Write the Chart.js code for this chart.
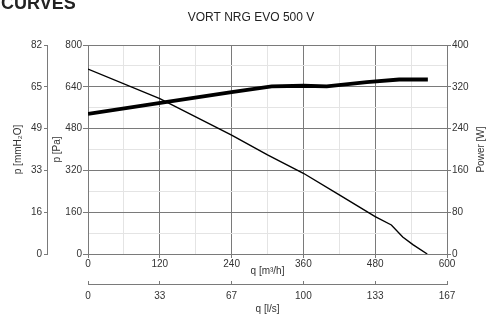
<!DOCTYPE html>
<html>
<head>
<meta charset="utf-8">
<script src="https://cdn.jsdelivr.net/npm/chart.js@4.4.1/dist/chart.umd.min.js"></script>
<style>
  html, body { margin: 0; padding: 0; background: #fff; overflow: hidden; }
  #wrap { position: relative; width: 488px; height: 315px; }
  #heading { position: absolute; left: 1px; top: -6px; font: bold 18px/18px "Liberation Sans", Arial, sans-serif; color: #222; white-space: nowrap; }
  canvas { position: absolute; left: 0; top: 0; }
</style>
</head>
<body>
<div id="wrap">
  <canvas id="c" width="488" height="315"></canvas>
  <div id="heading">CURVES</div>
</div>
<script>
// ---- data ----
const chartTitle = "VORT NRG EVO 500 V";
const pressureFlow = [0, 120, 240, 300, 360, 420, 480, 507, 526, 543, 567];   // q [m³/h]
const pressureVals = [708, 595, 455, 379, 309, 226, 143, 111, 65, 36, 0];      // p [Pa]
const powerFlow = [0, 132, 240, 307, 360, 399, 466, 520, 568];                  // q [m³/h]
const powerVals = [268, 291, 310, 321, 322, 321, 329, 334, 334];                // Power [W]
const flowTicks = [0, 120, 240, 360, 480, 600];           // q [m³/h]
const pressureTicks = [0, 160, 320, 480, 640, 800];       // p [Pa]
const powerTicks = [0, 80, 160, 240, 320, 400];           // Power [W]
const mmTickLabels = [0, 16, 33, 49, 65, 82];             // p [mmH2O]
const lsTickLabels = [0, 33, 67, 100, 133, 167];          // q [l/s]

const FONT = "'Liberation Sans', Arial, sans-serif";
const TXT = '#333';
const MAJOR = '#7a7a7a';
const MINOR = '#e4e4e4';
const PA_PER_MM = 9.80665;

function pts(xs, ys) { return xs.map((x, i) => ({ x: x, y: ys[i] })); }

const extraText = {
  id: 'extraText',
  afterDraw(chart) {
    const ctx = chart.ctx;
    ctx.save();
    ctx.fillStyle = '#222';
    ctx.font = '12px ' + FONT;
    ctx.textAlign = 'center';
    ctx.textBaseline = 'middle';
    ctx.fillText(chartTitle, 251, 18);
    const r = chart.scales.y1;
    ctx.fillStyle = TXT;
    ctx.font = '10px ' + FONT;
    ctx.translate(481, (r.top + r.bottom) / 2);
    ctx.rotate(-Math.PI / 2);
    ctx.fillText('Power [W]', 0, 0);
    ctx.restore();
  }
};

const majorOnly = (step) => (c) => (c.tick && Math.abs(c.tick.value % step) < 1e-6) ? MAJOR : 'rgba(0,0,0,0)';
const gridCol = (step) => (c) => (c.tick && Math.abs(c.tick.value % step) < 1e-6) ? MAJOR : MINOR;

new Chart(document.getElementById('c'), {
  type: 'line',
  data: {
    datasets: [
      { label: 'p', data: pts(pressureFlow, pressureVals), xAxisID: 'x', yAxisID: 'y',
        borderColor: '#000', borderWidth: 1.4, pointRadius: 0, tension: 0, fill: false },
      { label: 'Power', data: pts(powerFlow, powerVals), xAxisID: 'x', yAxisID: 'y1',
        borderColor: '#000', borderWidth: 3.8, pointRadius: 0, tension: 0, fill: false }
    ]
  },
  options: {
    responsive: false,
    animation: false,
    layout: { padding: { top: 45, left: 0, right: 0, bottom: 0 } },
    plugins: { legend: { display: false }, title: { display: false }, tooltip: { enabled: false } },
    scales: {
      x: {
        type: 'linear', position: 'bottom', weight: 0, min: 0, max: 600,
        afterBuildTicks: (s) => { const t = []; for (let v = 0; v <= 600; v += 60) t.push({ value: v }); s.ticks = t; },
        afterFit: (s) => { s.height = 30; },
        ticks: { autoSkip: false, maxRotation: 0, padding: 0, color: TXT, font: { family: FONT, size: 10 },
          callback: (v) => flowTicks.includes(v) ? String(v) : '' },
        grid: { color: gridCol(120), tickColor: majorOnly(120), tickLength: 4, lineWidth: 1 },
        border: { color: MAJOR },
        title: { display: true, text: 'q [m³/h]', color: TXT, font: { family: FONT, size: 10 }, padding: { top: 0, bottom: 7 } }
      },
      x2: {
        type: 'linear', position: 'bottom', weight: 1, min: 0, max: 600 / 3.6,
        afterBuildTicks: (s) => { s.ticks = lsTickLabels.map((l, i) => ({ value: flowTicks[i] / 3.6 })); },
        afterFit: (s) => { s.height = 31; },
        ticks: { autoSkip: false, maxRotation: 0, padding: 9, color: TXT, font: { family: FONT, size: 10 },
          callback: (v, i) => String(lsTickLabels[i]) },
        grid: { drawOnChartArea: false, color: MAJOR, tickLength: -3 },
        border: { color: MAJOR },
        title: { display: true, text: 'q [l/s]', color: TXT, font: { family: FONT, size: 10 }, padding: { top: 0, bottom: 0 } }
      },
      y: {
        type: 'linear', position: 'left', weight: 0, min: 0, max: 800,
        afterBuildTicks: (s) => { const t = []; for (let v = 0; v <= 800; v += 80) t.push({ value: v }); s.ticks = t; },
        afterFit: (s) => { s.width = 41; },
        ticks: { autoSkip: false, padding: 1, color: TXT, font: { family: FONT, size: 10 },
          callback: (v) => pressureTicks.includes(v) ? String(v) : '' },
        grid: { color: gridCol(160), tickColor: majorOnly(160), tickLength: 5 },
        border: { color: MAJOR },
        title: { display: true, text: 'p [Pa]', color: TXT, font: { family: FONT, size: 10 }, padding: 4 }
      },
      y3: {
        type: 'linear', position: 'left', weight: 1, min: 0, max: 800 / PA_PER_MM,
        afterBuildTicks: (s) => { s.ticks = mmTickLabels.map((l, i) => ({ value: pressureTicks[i] / PA_PER_MM })); },
        afterFit: (s) => { s.width = 47; },
        ticks: { autoSkip: false, padding: 2, color: TXT, font: { family: FONT, size: 10 },
          callback: (v, i) => String(mmTickLabels[i]) },
        grid: { drawOnChartArea: false, color: MAJOR, tickLength: 3 },
        border: { color: MAJOR },
        title: { display: true, text: 'p [mmH₂O]', color: TXT, font: { family: FONT, size: 10 }, padding: 12 }
      },
      y1: {
        type: 'linear', position: 'right', min: 0, max: 400,
        afterBuildTicks: (s) => { s.ticks = powerTicks.map(v => ({ value: v })); },
        afterFit: (s) => { s.width = 41; },
        ticks: { autoSkip: false, padding: 1, color: TXT, font: { family: FONT, size: 10 } },
        grid: { drawOnChartArea: false, color: MAJOR, tickLength: 4 },
        border: { color: MAJOR },
        title: { display: false }
      }
    }
  },
  plugins: [extraText]
});
</script>
</body>
</html>
